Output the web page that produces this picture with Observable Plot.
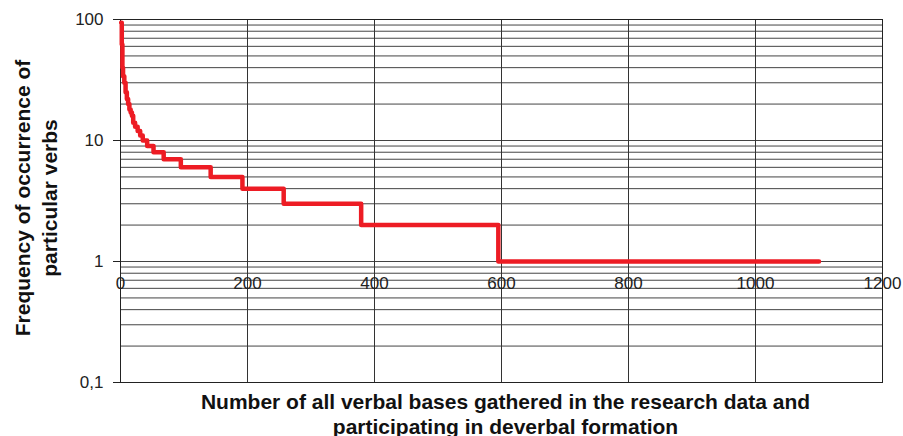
<!DOCTYPE html>
<html>
<head>
<meta charset="utf-8">
<script src="https://cdn.jsdelivr.net/npm/d3@7"></script>
<script src="https://cdn.jsdelivr.net/npm/@observablehq/plot@0.6"></script>
<style>
  html, body { margin: 0; padding: 0; background: #fff; }
  #chart { width: 903px; height: 436px; overflow: hidden; }
</style>
</head>
<body>
<div id="chart"></div>
<script>
// Rank of verbal base (x) and its frequency of occurrence (y)
const ranks = [1, 2, 3, 4, 6, 8, 10, 12, 14, 16, 18, 20, 23, 27, 31, 35, 42, 52, 68, 95, 142, 192, 257, 379, 595, 1100];
const freqs = [94, 62, 40, 34, 30, 25, 22, 20, 18, 17, 16, 14, 13, 12, 11, 10, 9, 8, 7, 6, 5, 4, 3, 2, 1, 1];

const xTicks = [0, 200, 400, 600, 800, 1000, 1200];
const yTicks = [0.1, 1, 10, 100];
const yTickLabels = ["0,1", "1", "10", "100"];
const yGrid = [0.2, 0.3, 0.4, 0.5, 0.6, 0.7, 0.8, 0.9,
               1, 2, 3, 4, 5, 6, 7, 8, 9,
               10, 20, 30, 40, 50, 60, 70, 80, 90];
const yLabel = "Frequency of occurrence of\nparticular verbs";
const xLabel = "Number of all verbal bases gathered in the research data and\nparticipating in deverbal formation";

const data = ranks.map((r, i) => ({rank: r, freq: freqs[i]}));

const chart = Plot.plot({
  width: 903,
  height: 436,
  marginLeft: 120,
  marginRight: 21,
  marginTop: 19,
  marginBottom: 54,
  style: {fontFamily: "'Liberation Sans', Arial, sans-serif", fontSize: "17px", background: "#fff", color: "#222"},
  x: {domain: [0, 1200], axis: null},
  y: {
    type: "log",
    domain: [0.1, 100],
    ticks: yTicks,
    tickFormat: d => yTickLabels[yTicks.indexOf(d)],
    tickSize: 7,
    tickPadding: 10,
    label: null
  },
  marks: [
    Plot.ruleY(yGrid, {stroke: "#444", strokeWidth: 1}),
    Plot.ruleX(xTicks, {stroke: "#333", strokeWidth: 1}),
    Plot.frame({stroke: "#222"}),
    Plot.text(xTicks, {x: d => d, y: () => 1, dy: 22, text: d => String(d), fill: "#222", fontSize: 17}),
    Plot.line(data, {x: "rank", y: "freq", curve: "step-after", stroke: "#ed1c24", strokeWidth: 4.5, strokeLinecap: "round", strokeLinejoin: "round"}),
    Plot.text([yLabel], {text: d => d, frameAnchor: "left", textAnchor: "middle", rotate: -90, dx: -86, dy: -3, lineHeight: 1.28, fontSize: 21, fontWeight: "bold", fill: "#111"}),
    Plot.text([xLabel], {text: d => d, frameAnchor: "bottom", dx: 4, dy: 51, lineHeight: 1.17, fontSize: 21, fontWeight: "bold", fill: "#111"})
  ]
});
document.getElementById("chart").appendChild(chart);
</script>
</body>
</html>
